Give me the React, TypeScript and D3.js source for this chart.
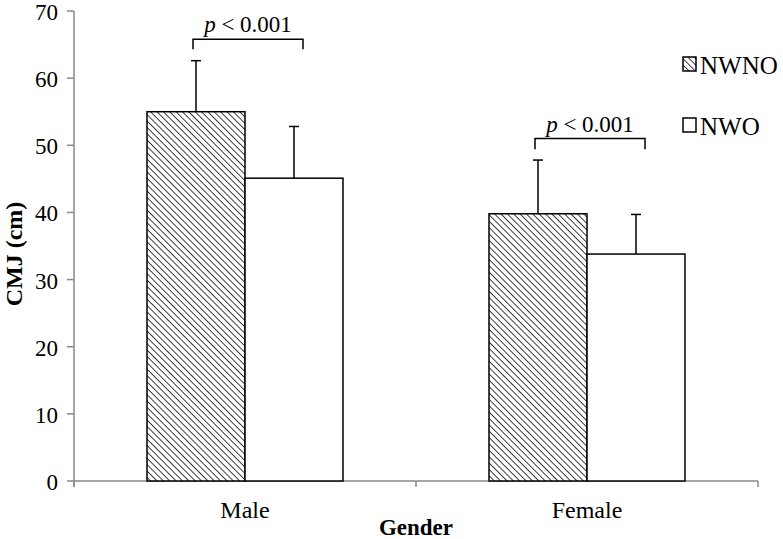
import * as d3 from 'd3';

const categories = ['Male', 'Female'];
const seriesNames = ['NWNO', 'NWO'];
const means = [
  [55.0, 45.1],
  [39.8, 33.8],
];
const sds = [
  [7.6, 7.7],
  [8.0, 5.9],
];
const yTicks = [0, 10, 20, 30, 40, 50, 60, 70];
// bracket levels [top, bottom of legs]
const brackets = [
  [65.8, 64.3],
  [51.0, 49.4],
];
const pLabel = '< 0.001';

const W = 783;
const H = 539;
const FONT = 'Liberation Serif, Times New Roman, Times, serif';

export default function App() {
  const left = 74;
  const right = 758;
  const top = 11;
  const bottom = 481;

  const y = d3.scaleLinear().domain([0, 70]).range([bottom, top]);
  const x0 = d3.scaleBand().domain(categories).range([left, right]).paddingInner(0).paddingOuter(0);
  const barW = 98;
  const barX = (ci: number, si: number) => (x0(categories[ci]) as number) + x0.bandwidth() / 2 - barW + si * barW;
  const txt = { fontFamily: FONT };

  return (
    <svg width={W} height={H} style={{ position: 'absolute', left: 0, top: 0, fontFamily: FONT }}>
      <defs>
        <pattern id="hatch" patternUnits="userSpaceOnUse" width={4.5} height={4.5} patternTransform="rotate(-45)">
          <rect width={4.5} height={4.5} fill="#fff" />
          <line x1={0} y1={0} x2={0} y2={4.5} stroke="#000" strokeWidth={1.5} />
        </pattern>
      </defs>
      <rect width={W} height={H} fill="#fff" />

      {/* y axis */}
      <line x1={left} y1={top} x2={left} y2={bottom + 6} stroke="#888" strokeWidth={1.5} />
      {yTicks.map((t) => (
        <g key={t}>
          <line x1={left - 7} x2={left} y1={y(t)} y2={y(t)} stroke="#888" strokeWidth={1.5} />
          <text x={left - 16} y={y(t) + 1} dy="0.35em" textAnchor="end" style={txt} fontSize={23}>
            {t}
          </text>
        </g>
      ))}

      {/* x axis */}
      <line x1={left} y1={bottom} x2={right} y2={bottom} stroke="#888" strokeWidth={1.5} />
      {[left, x0('Female') as number, right].map((t, i) => (
        <line key={i} x1={t} x2={t} y1={bottom} y2={bottom + 6} stroke="#888" strokeWidth={1.5} />
      ))}
      {categories.map((c) => (
        <text key={c} x={(x0(c) as number) + x0.bandwidth() / 2} y={bottom + 37} textAnchor="middle" style={txt} fontSize={24}>
          {c}
        </text>
      ))}
      <text x={(left + right) / 2} y={535} textAnchor="middle" style={txt} fontSize={23} fontWeight="bold">
        Gender
      </text>
      <text transform={`translate(22,${(top + bottom) / 2 + 8}) rotate(-90)`} textAnchor="middle" style={txt} fontSize={24} fontWeight="bold">
        CMJ (cm)
      </text>

      {/* bars */}
      {categories.map((c, ci) =>
        seriesNames.map((s, si) => {
          const bx = barX(ci, si);
          const cx = bx + barW / 2;
          const v = means[ci][si];
          const e = v + sds[ci][si];
          return (
            <g key={c + s}>
              <line x1={cx} x2={cx} y1={y(v)} y2={y(e)} stroke="#000" strokeWidth={1.5} />
              <line x1={cx - 5} x2={cx + 5} y1={y(e)} y2={y(e)} stroke="#000" strokeWidth={1.5} />
              <rect x={bx} y={y(v)} width={barW} height={y(0) - y(v)} fill={si === 0 ? 'url(#hatch)' : '#fff'} stroke="#000" strokeWidth={1.5} />
            </g>
          );
        })
      )}

      {/* significance brackets */}
      {categories.map((c, ci) => {
        const xa = barX(ci, 0) + barW / 2 - 3;
        const xb = barX(ci, 1) + barW / 2 + 9;
        const [bt, bb] = brackets[ci];
        return (
          <g key={'b' + c}>
            <path d={`M${xa},${y(bb)}V${y(bt)}H${xb}V${y(bb)}`} fill="none" stroke="#000" strokeWidth={1.5} />
            <text x={(xa + xb) / 2} y={y(bt) - 7} textAnchor="middle" style={txt} fontSize={23}>
              <tspan fontStyle="italic">p</tspan> {pLabel}
            </text>
          </g>
        );
      })}

      {/* legend */}
      {seriesNames.map((s, si) => {
        const ly = 64 + si * 61;
        return (
          <g key={s}>
            <rect x={683} y={ly - 7} width={13} height={14} fill={si === 0 ? 'url(#hatch)' : '#fff'} stroke="#000" strokeWidth={1.5} />
            <text x={700} y={ly + 1} dy="0.35em" style={txt} fontSize={25}>
              {s}
            </text>
          </g>
        );
      })}
    </svg>
  );
}
